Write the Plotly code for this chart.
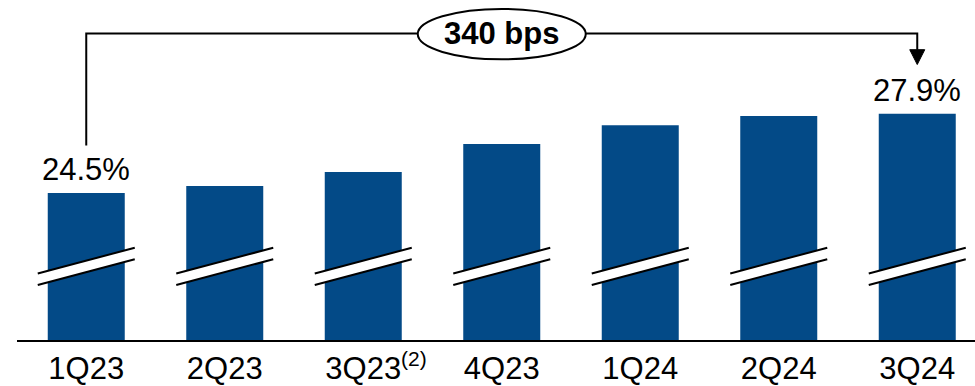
import plotly.graph_objects as go

# ---------------- data ----------------
categories = ["1Q23", "2Q23", "3Q23", "4Q23", "1Q24", "2Q24", "3Q24"]
values = [24.5, 24.8, 25.4, 26.6, 27.4, 27.8, 27.9]
value_labels = ["24.5%", "", "", "", "", "", "27.9%"]
footnote_labels = ["", "", "(2)", "", "", "", ""]
change_label = "340 bps"

# ---------------- style / layout ----------------
BAR_COLOR = "#034A87"
FONT = "Liberation Sans, Arial, sans-serif"
W, H = 975, 386
ML, MR, MT, MB = 17, 0, 0, 42
Y0, Y1 = 18.2, 32.77
plot_h = H - MT - MB
plot_w = W - ML - MR
px_per_unit = plot_h / (Y1 - Y0)
px_per_cat = 138.5
X0 = -0.5
X1 = X0 + plot_w / px_per_cat


def dy(px):
    return px / px_per_unit


def dx(px):
    return px / px_per_cat


def ypix(px_from_top):
    return Y1 - dy(px_from_top)


xs = list(range(len(categories)))

fig = go.Figure(
    go.Bar(
        x=xs,
        y=values,
        marker=dict(color=BAR_COLOR, line=dict(width=0)),
        hoverinfo="skip",
    )
)

shapes = []
# axis-break marks on every bar
for i in xs:
    xl, xr = i - dx(48.5), i + dx(48.5)
    ul, ur = ypix(276.7), ypix(250.7)
    ll, lr = ypix(288.3), ypix(262.3)
    shapes.append(dict(type="path", xref="x", yref="y",
                       path=f"M {xl},{ul} L {xr},{ur} L {xr},{lr} L {xl},{ll} Z",
                       fillcolor="white", line=dict(width=0), layer="above"))
    shapes.append(dict(type="line", xref="x", yref="y", x0=xl, y0=ul, x1=xr, y1=ur,
                       line=dict(color="black", width=2), layer="above"))
    shapes.append(dict(type="line", xref="x", yref="y", x0=xl, y0=ll, x1=xr, y1=lr,
                       line=dict(color="black", width=2), layer="above"))

# bracket from first to last bar
first, last = xs[0], xs[-1]
bracket_y = ypix(34)
left_bottom = values[0] + dy(48)
arrow_tip = values[-1] + dy(49.7)
arrow_base = values[-1] + dy(64.7)
shapes.append(dict(type="path", xref="x", yref="y",
                   path=f"M {first},{left_bottom} L {first},{bracket_y} L {last},{bracket_y} L {last},{arrow_base}",
                   line=dict(color="black", width=2), layer="above"))
shapes.append(dict(type="path", xref="x", yref="y",
                   path=f"M {last - dx(7.5)},{arrow_base} L {last + dx(7.5)},{arrow_base} L {last},{arrow_tip} Z",
                   fillcolor="black", line=dict(color="black", width=1), layer="above"))
mid = (first + last) / 2
shapes.append(dict(type="circle", xref="x", yref="y",
                   x0=mid - dx(84), x1=mid + dx(84), y0=ypix(60), y1=ypix(9),
                   fillcolor="white", line=dict(color="black", width=2), layer="above"))

annotations = []
for i, (v, lab) in enumerate(zip(values, value_labels)):
    if lab:
        annotations.append(dict(x=i, y=v, xref="x", yref="y", text=lab, showarrow=False,
                                yanchor="middle", yshift=23,
                                font=dict(family=FONT, size=31, color="black")))
for i, fn in enumerate(footnote_labels):
    if fn:
        annotations.append(dict(x=i, y=0, xref="x", yref="paper", text=fn, showarrow=False,
                                xanchor="center", yanchor="middle", xshift=51, yshift=-18,
                                font=dict(family=FONT, size=21, color="black")))
annotations.append(dict(x=mid, y=bracket_y, xref="x", yref="y", text=f"<b>{change_label}</b>",
                        showarrow=False, xanchor="center", yanchor="middle",
                        font=dict(family=FONT, size=31, color="black")))

fig.update_layout(
    width=W, height=H, autosize=False,
    margin=dict(l=ML, r=MR, t=MT, b=MB, pad=0),
    paper_bgcolor="white", plot_bgcolor="white",
    showlegend=False,
    bargap=1 - 77 / px_per_cat,
    shapes=shapes,
    annotations=annotations,
    font=dict(family=FONT, color="black"),
)
fig.update_xaxes(range=[X0, X1], tickvals=xs, ticktext=categories,
                 showgrid=False, zeroline=False, showline=True, linecolor="black", linewidth=1.5,
                 ticks="", tickfont=dict(family=FONT, size=31, color="black"))
fig.update_yaxes(range=[Y0, Y1], visible=False, showgrid=False, zeroline=False)

fig.write_html("out.html")
